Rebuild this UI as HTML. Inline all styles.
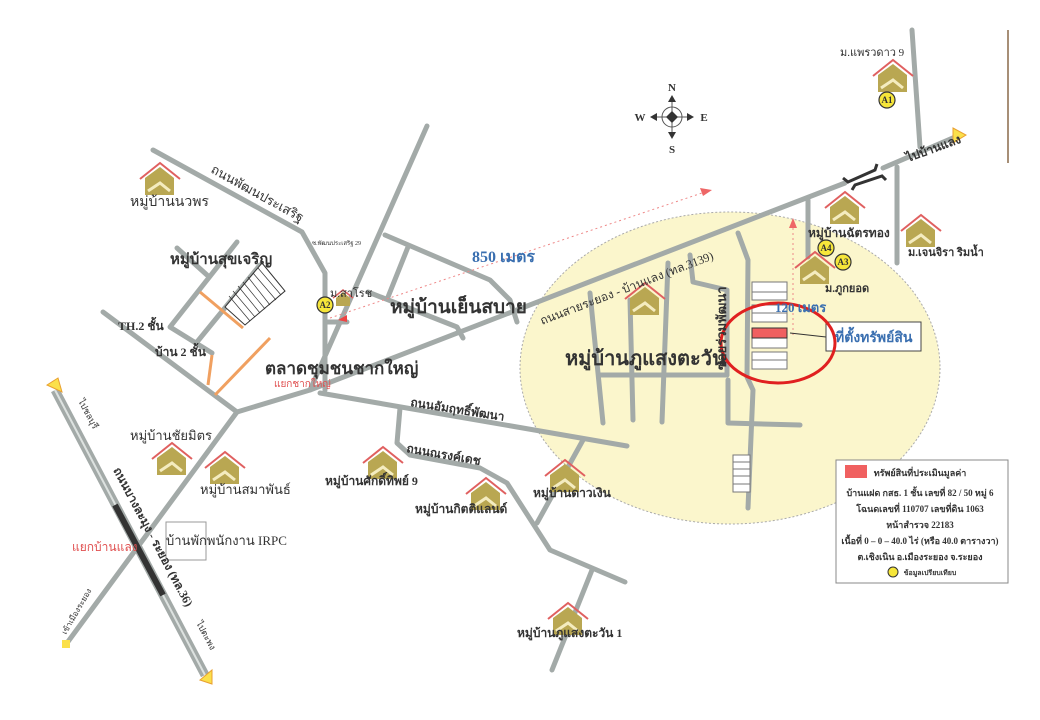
<!DOCTYPE html>
<html><head><meta charset="utf-8"><style>
body{margin:0;background:#fff;width:1040px;height:720px;overflow:hidden}
svg{display:block}
text{font-family:"Liberation Serif","Noto Serif CJK SC","Noto Sans CJK SC",serif;fill:#333}
</style></head><body>
<svg width="1040" height="720" viewBox="0 0 1040 720" xmlns="http://www.w3.org/2000/svg">
<defs>
<g id="h">
<polyline points="0,16 20,0 40,16" fill="none" stroke="#e06060" stroke-width="2"/>
<polygon points="5,15 20,4 34,15 34,32 5,32" fill="#b9a752"/>
<polyline points="8,28 20,20 30,28" fill="none" stroke="#f4ecc0" stroke-width="3"/>
</g>
<g id="hs">
<polyline points="0,8 10,0 20,8" fill="none" stroke="#e06060" stroke-width="1.5"/>
<polygon points="3,8 10,2 17,8 17,16 3,16" fill="#b9a752"/>
</g>
</defs>
<ellipse cx="730" cy="368" rx="210" ry="156" fill="#fbf6cc" stroke="#aaa" stroke-dasharray="2,2" stroke-width="1"/>
<g fill="none" stroke="#a3aaa8" stroke-width="5" stroke-linecap="round" stroke-linejoin="round">
<polyline points="237,412 310,390 845,183"/>
<polyline points="883,168 955,137"/>
<polyline points="237,412 67,643"/>
<polyline points="237,412 103,312"/>
<polyline points="153,150 302,232 325,273 325,390"/>
<polyline points="325,322 347,322"/>
<polyline points="310,390 427,126"/>
<polyline points="385,235 490,280 510,300 517,322"/>
<polyline points="408,247 388,297"/>
<polyline points="368,292 457,327 463,338"/>
<polyline points="237,242 170,327 212,353"/>
<polyline points="177,248 207,275"/>
<polyline points="260,265 197,342"/>
<polyline points="320,393 627,446"/>
<polyline points="400,408 397,443 410,455 480,468 507,483 550,550 625,582"/>
<polyline points="537,523 583,440"/>
<polyline points="592,570 552,670"/>
<polyline points="590,293 603,423"/>
<polyline points="630,300 633,420"/>
<polyline points="668,263 662,422"/>
<polyline points="690,255 693,282 727,290 727,375"/>
<polyline points="600,375 727,375"/>
<polyline points="738,233 748,260 747,377 753,390 748,508"/>
<polyline points="728,380 728,423 800,425"/>
<polyline points="808,200 808,257"/>
<polyline points="897,167 897,263"/>
<polyline points="912,30 920,147"/>
</g>
<line x1="1008" y1="30" x2="1008" y2="163" stroke="#8a6a4a" stroke-width="1.5"/>
<line x1="55" y1="390" x2="205" y2="675" stroke="#a3aaa8" stroke-width="9"/>
<line x1="55" y1="390" x2="205" y2="675" stroke="#dde2e0" stroke-width="2"/>
<line x1="115" y1="505" x2="163" y2="595" stroke="#333" stroke-width="6"/>
<polygon points="47,385 58,378 62,392" fill="#fbe04a" stroke="#e9a030"/>
<polygon points="200,680 212,670 212,684" fill="#fbe04a" stroke="#e9a030"/>
<rect x="62" y="640" width="8" height="8" fill="#fbe04a"/>
<polygon points="953,128 966,135 953,143" fill="#fbe04a" stroke="#e9a030"/>
<g stroke="#f0a060" stroke-width="3" fill="none">
<line x1="200" y1="292" x2="243" y2="328"/><line x1="212" y1="355" x2="208" y2="385"/><line x1="270" y1="338" x2="215" y2="395"/>
</g>
<polygon points="262,263 285,291 245,325 225,307" fill="#fff" stroke="#333"/>
<g stroke="#333" stroke-width="0.7">
<line x1="258" y1="268" x2="281" y2="295"/><line x1="253" y1="273" x2="276" y2="300"/><line x1="248" y1="277" x2="270" y2="305"/><line x1="243" y1="282" x2="265" y2="309"/><line x1="238" y1="286" x2="260" y2="313"/><line x1="233" y1="291" x2="255" y2="317"/><line x1="229" y1="296" x2="250" y2="321"/>
</g>
<g stroke="#333" stroke-width="3" fill="none">
<polyline points="843,178 848,182 875,170 877,164"/><polyline points="852,190 855,185 882,176 886,180"/>
</g>
<line x1="330" y1="318" x2="705" y2="192" stroke="#e88" stroke-dasharray="2,3"/>
<polygon points="712,190 700,188 703,196" fill="#e66"/>
<line x1="793" y1="228" x2="793" y2="336" stroke="#e88" stroke-dasharray="2,3"/>
<polygon points="793,218 789,228 797,228" fill="#e66"/>
<g fill="#fff" stroke="#777" stroke-width="1">
<rect x="752" y="282" width="35" height="10"/><rect x="752" y="292" width="35" height="8"/>
<rect x="752" y="305" width="35" height="8"/><rect x="752" y="313" width="35" height="9"/>
<rect x="752" y="338" width="35" height="10"/><rect x="752" y="352" width="35" height="8"/><rect x="752" y="360" width="35" height="9"/>
<rect x="733" y="455" width="17" height="7"/><rect x="733" y="462" width="17" height="7"/><rect x="733" y="469" width="17" height="7"/><rect x="733" y="476" width="17" height="8"/><rect x="733" y="484" width="17" height="8"/>
</g>
<rect x="752" y="328" width="35" height="10" fill="#f06060" stroke="#333"/>
<line x1="790" y1="333" x2="826" y2="337" stroke="#333"/>
<rect x="826" y="322" width="95" height="29" fill="#fff" stroke="#444"/>
<text x="835" y="342" font-size="14" style="fill:#3a6fb0" font-weight="bold">ที่ตั้งทรัพย์สิน</text>
<ellipse cx="778" cy="343" rx="57" ry="40" fill="none" stroke="#e02020" stroke-width="3"/>
<use href="#h" x="140" y="163"/><use href="#h" x="625" y="283"/><use href="#h" x="825" y="192"/>
<use href="#h" x="795" y="252"/><use href="#h" x="901" y="215"/><use href="#h" x="873" y="60"/>
<use href="#h" x="152" y="443"/><use href="#h" x="205" y="452"/><use href="#h" x="363" y="447"/>
<use href="#h" x="466" y="478"/><use href="#h" x="545" y="460"/><use href="#h" x="548" y="603"/>
<use href="#hs" x="333" y="290"/>
<polygon points="338,320 347,315 347,322" fill="#e44"/>
<g fill="#f6e63a" stroke="#333" stroke-width="1.2">
<circle cx="325" cy="305" r="8"/><circle cx="887" cy="100" r="8"/><circle cx="826" cy="248" r="8"/><circle cx="843" cy="262" r="8"/>
</g>
<g font-size="9" font-weight="bold" text-anchor="middle">
<text x="325" y="308">A2</text><text x="887" y="103">A1</text><text x="826" y="251">A4</text><text x="843" y="265">A3</text>
</g>
<g transform="translate(672,117)">
<circle r="10" fill="none" stroke="#555"/><line x1="-16" y1="0" x2="16" y2="0" stroke="#555"/><line x1="0" y1="-16" x2="0" y2="16" stroke="#555"/>
<polygon points="0,-6 6,0 0,6 -6,0" fill="#333"/>
<polygon points="0,-22 -4,-15 4,-15" fill="#333"/><polygon points="0,22 -4,15 4,15" fill="#333"/>
<polygon points="-22,0 -15,-4 -15,4" fill="#333"/><polygon points="22,0 15,-4 15,4" fill="#333"/>
<g font-size="11" font-weight="bold" text-anchor="middle" style="font-family:'Liberation Sans',sans-serif">
<text x="0" y="-26">N</text><text x="0" y="36">S</text><text x="-32" y="4">W</text><text x="32" y="4">E</text></g>
</g>
<text x="130" y="206" font-size="14">หมู่บ้านนวพร</text>
<text transform="translate(210,172) rotate(29)" font-size="13">ถนนพัฒนประเสริฐ</text>
<text x="312" y="245" font-size="6">ซ.พัฒนประเสริฐ 29</text>
<text x="170" y="264" font-size="15" font-weight="bold">หมู่บ้านสุขเจริญ</text>
<text x="118" y="330" font-size="12" font-weight="bold">TH.2 ชั้น</text>
<text x="155" y="356" font-size="12" font-weight="bold">บ้าน 2 ชั้น</text>
<text x="330" y="297" font-size="11">ม.สาโรช</text>
<text x="390" y="313" font-size="19" font-weight="bold">หมู่บ้านเย็นสบาย</text>
<text x="472" y="262" font-size="16" font-weight="bold" style="fill:#3a6fb0">850 เมตร</text>
<text transform="translate(542,325) rotate(-21)" font-size="12">ถนนสายระยอง - บ้านแลง (ทล.3139)</text>
<text x="565" y="365" font-size="20" font-weight="bold">หมู่บ้านภูแสงตะวัน</text>
<text transform="translate(726,370) rotate(-90)" font-size="13" font-weight="bold">ซอยร่วมพัฒนา</text>
<text x="775" y="312" font-size="13" font-weight="bold" style="fill:#3a6fb0">120 เมตร</text>
<text x="265" y="374" font-size="17" font-weight="bold">ตลาดชุมชนชากใหญ่</text>
<text x="274" y="387" font-size="10" style="fill:#e05050">แยกชากใหญ่</text>
<text transform="translate(410,406) rotate(9)" font-size="12" font-weight="bold">ถนนอัมฤทธิ์พัฒนา</text>
<text transform="translate(406,452) rotate(10)" font-size="12" font-weight="bold">ถนนณรงค์เดช</text>
<text x="130" y="440" font-size="13">หมู่บ้านชัยมิตร</text>
<text x="200" y="494" font-size="13">หมู่บ้านสมาพันธ์</text>
<rect x="166" y="522" width="40" height="38" fill="none" stroke="#999"/>
<text x="166" y="545" font-size="13">บ้านพักพนักงาน IRPC</text>
<text x="72" y="551" font-size="12" style="fill:#e05050">แยกบ้านแลง</text>
<text transform="translate(113,470) rotate(62)" font-size="12" font-weight="bold">ถนนบางละมุง - ระยอง (ทล.36)</text>
<text transform="translate(78,401) rotate(62)" font-size="9">ไปชลบุรี</text>
<text transform="translate(196,623) rotate(62)" font-size="9">ไปตะพง</text>
<text transform="translate(66,635) rotate(-60)" font-size="8">เข้าเมืองระยอง</text>
<text x="325" y="485" font-size="12" font-weight="bold">หมู่บ้านศักดิ์ทิพย์ 9</text>
<text x="415" y="513" font-size="12" font-weight="bold">หมู่บ้านกิตติแลนด์</text>
<text x="533" y="497" font-size="12" font-weight="bold">หมู่บ้านดาวเงิน</text>
<text x="517" y="637" font-size="12" font-weight="bold">หมู่บ้านภูแสงตะวัน 1</text>
<text x="840" y="56" font-size="11">ม.แพรวดาว 9</text>
<text transform="translate(908,162) rotate(-20)" font-size="12" font-weight="bold">ไปบ้านแลง</text>
<text x="808" y="237" font-size="12" font-weight="bold">หมู่บ้านฉัตรทอง</text>
<text x="825" y="292" font-size="11" font-weight="bold">ม.ภูกยอด</text>
<text x="908" y="256" font-size="11" font-weight="bold">ม.เจนจิรา ริมน้ำ</text>
<rect x="836" y="460" width="172" height="123" fill="#fff" stroke="#888"/>
<rect x="845" y="465" width="22" height="13" fill="#f06060"/>
<g font-size="9" font-weight="bold" text-anchor="middle">
<text x="920" y="476">ทรัพย์สินที่ประเมินมูลค่า</text>
<text x="920" y="496">บ้านแฝด กสธ. 1 ชั้น เลขที่ 82 / 50 หมู่ 6</text>
<text x="920" y="512">โฉนดเลขที่ 110707 เลขที่ดิน 1063</text>
<text x="920" y="528">หน้าสำรวจ 22183</text>
<text x="920" y="544">เนื้อที่ 0 – 0 – 40.0 ไร่ (หรือ 40.0 ตารางวา)</text>
<text x="920" y="560">ต.เชิงเนิน อ.เมืองระยอง จ.ระยอง</text>
<text x="930" y="575" font-size="7">ข้อมูลเปรียบเทียบ</text>
</g>
<circle cx="893" cy="572" r="5" fill="#f6e63a" stroke="#333"/>
</svg>
</body></html>
